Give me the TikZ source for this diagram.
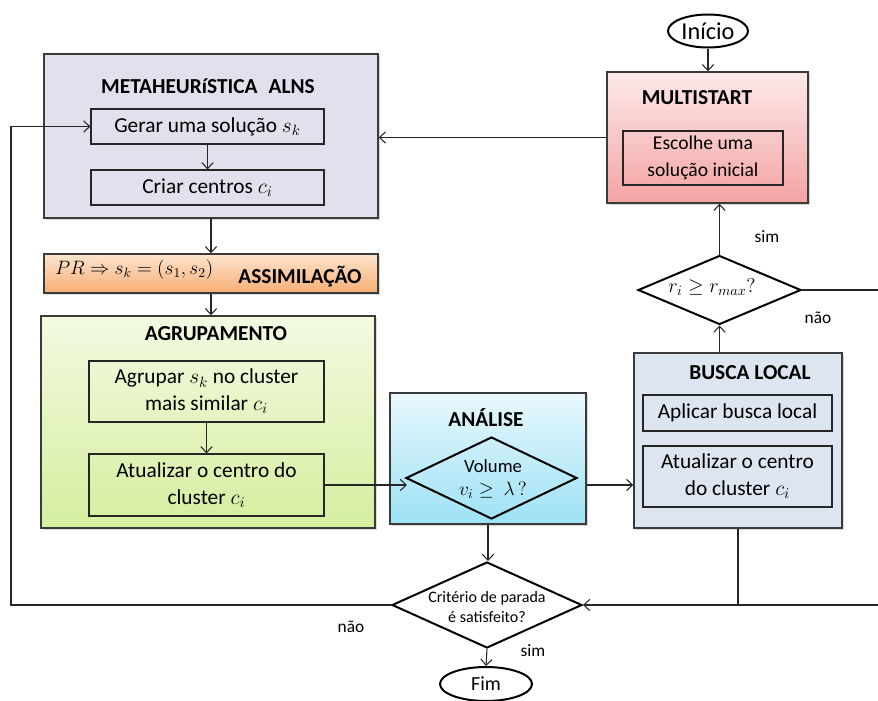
\RequirePackage{fix-cm}
\documentclass[tikz,border=0pt]{standalone}
\usepackage{fontspec}
\setmainfont{Carlito}
\usetikzlibrary{fit,shapes.geometric,shadows,arrows.meta}
\definecolor{edgegray}{HTML}{3A3A3A}
\definecolor{lavender}{HTML}{E4DFEC}
\definecolor{pinktop}{HTML}{FDE9E9}
\definecolor{pinkbot}{HTML}{F4A3A3}
\definecolor{orangetop}{HTML}{FDE4CF}
\definecolor{orangebot}{HTML}{F7AE74}
\definecolor{greentop}{HTML}{F3FAE2}
\definecolor{greenbot}{HTML}{D5EE9E}
\definecolor{cyantop}{HTML}{E9F8FD}
\definecolor{cyanbot}{HTML}{9DE2F6}
\definecolor{bluegray}{HTML}{DCE5F0}
\tikzset{
  outerbox/.style={draw=edgegray, line width=1.1pt, inner sep=0pt,
    drop shadow={shadow xshift=1.3pt, shadow yshift=-1.3pt, opacity=0.3}},
  innerbox/.style={draw=black!85, line width=0.9pt, inner sep=0pt},
  bodytext/.style={align=center, font=\fontsize{16}{20}\selectfont, inner sep=0pt},
  titletext/.style={font=\bfseries\fontsize{16}{19}\selectfont, inner sep=0pt},
  lbl/.style={font=\fontsize{13}{15}\selectfont, inner sep=0pt},
  dia/.style={diamond, draw=black, line width=1.5pt, inner sep=0pt},
  term/.style={ellipse, draw=black, line width=1.5pt, inner sep=0pt},
  arr/.style={-{Straight Barb[length=4.5pt,width=8.5pt]}, line width=0.8pt, black!85},
  ln/.style={line width=0.8pt, black!85},
}
\begin{document}
\begin{tikzpicture}[x=0.75pt, y=-0.75pt]
\useasboundingbox (0,0) rectangle (878,700);

% Inicio
\node[term, minimum width=80*0.75pt, minimum height=33*0.75pt,
  font=\fontsize{18.2}{20}\selectfont] (inicio) at (708,31) {Início};

% MULTISTART
\node[outerbox, top color=pinktop, bottom color=pinkbot, fit={(607,72) (808,203)}] (ms) {};
\node[titletext] (mstitle) at (697,98) {MULTISTART};
\node[innerbox, fit={(623,131) (783,185)}] (msin) {};
\node[align=center, font=\fontsize{14.7}{20}\selectfont, inner sep=0pt] (mstext) at (msin) {Escolhe uma\\solução inicial};

% METAHEURISTICA
\node[outerbox, fill=lavender, fit={(44,54) (378,218)}] (meta) {};
\node[titletext] (metatitle) at (208,86) {METAHEURíSTICA\hspace{0.3em} ALNS};
\node[innerbox, fit={(91,109) (324,144)}] (gerar) {};
\node[bodytext] (gerartext) at (gerar) {Gerar uma solução $s_k$};
\node[innerbox, fit={(91,170) (324,205)}] (criar) {};
\node[bodytext] (criartext) at (criar) {Criar centros $c_i$};

% ASSIMILACAO
\node[outerbox, top color=orangetop, bottom color=orangebot, fit={(44,254) (378,293)}] (assim) {};
\node[font=\fontsize{14.5}{18}\selectfont, inner sep=0pt, anchor=west] (prtext) at (55,270) {$PR \Rightarrow s_k = (s_1, s_2)$};
\node[titletext] (assimtitle) at (300,277) {ASSIMILAÇÃO};

% AGRUPAMENTO
\node[outerbox, top color=greentop, bottom color=greenbot, fit={(41,316) (375,528)}] (agrup) {};
\node[titletext] (agruptitle) at (216,334) {AGRUPAMENTO};
\node[innerbox, fit={(89,361) (324,422)}] (agrupar) {};
\node[bodytext] (agrupartext) at (agrupar) {Agrupar $s_k$ no cluster\\mais similar $c_i$};
\node[innerbox, fit={(89,454) (324,516)}] (atual) {};
\node[bodytext] (atualtext) at (atual) {Atualizar o centro do\\cluster $c_i$};

% ANALISE
\node[outerbox, top color=cyantop, bottom color=cyanbot, fit={(390,393) (586,524)}] (analise) {};
\node[titletext] (analisetitle) at (486,418) {ANÁLISE};
\node[dia, minimum width=171*0.75pt, minimum height=82*0.75pt] (vol) at (491.5,478) {};
\node[font=\fontsize{14}{16}\selectfont, inner sep=0pt] (voltext1) at (493,466) {Volume};
\node[font=\fontsize{14.5}{16}\selectfont, inner sep=0pt] (voltext2) at (493,490) {$v_i \geq\ \lambda\,?$};

% BUSCA LOCAL
\node[outerbox, fill=bluegray, fit={(634,353) (842,528)}] (busca) {};
\node[titletext] (buscatitle) at (750,373) {BUSCA LOCAL};
\node[innerbox, fit={(643,395) (832,431)}] (aplicar) {};
\node[bodytext] (aplicartext) at (aplicar) {Aplicar busca local};
\node[innerbox, fit={(643,446) (832,507)}] (atual2) {};
\node[bodytext] (atual2text) at (atual2) {Atualizar o centro\\do cluster $c_i$};

% r diamond
\node[dia, minimum width=163*0.75pt, minimum height=69*0.75pt] (rdia) at (719.5,290) {};
\node[font=\fontsize{15}{18}\selectfont, inner sep=0pt] (rtext) at (712,287) {$r_i \geq r_{max}?$};

% Criterio diamond
\node[dia, minimum width=190*0.75pt, minimum height=86*0.75pt] (crit) at (487,605) {};
\node[align=center, font=\fontsize{12}{15}\selectfont, inner sep=0pt] (crittext) at (487,607) {Critério de parada\\é satisfeito?};

% Fim
\node[term, minimum width=92*0.75pt, minimum height=34*0.75pt,
  font=\fontsize{15}{18}\selectfont] (fim) at (486,684) {Fim};

% coordinates
\coordinate (redge1) at (878,290);
\coordinate (redge2) at (878,605);
\coordinate (lx) at (11,0);

% connectors
\draw[arr] (inicio.south) -- (inicio.south |- ms.north);
\draw[arr] (ms.west) -- (ms.west -| meta.east);
\draw[arr] (gerar.south) -- (criar.north);
\draw[arr] (meta.south) -- (meta.south |- assim.north);
\draw[arr] (assim.south) -- (assim.south |- agrup.north);
\draw[arr] (agrupar.south) -- (atual.north);
\draw[arr] (atual.east) -- ([xshift=1.5pt]atual.east -| vol.west);
\draw[arr] (analise.east |- atual.east) -- (busca.west |- atual.east);
\draw[arr] (rdia.south |- busca.north) -- (rdia.south);
\draw[arr] (rdia.north) -- (rdia.north |- ms.south);
\draw[ln] (rdia.east) -- (redge1);
\draw[arr] (redge2) -- (crit.east);
\draw[ln] (busca.south) -- (busca.south |- crit.east);
\draw[arr] (analise.south) -- (analise.south |- crit.north);
\draw[arr] (crit.south) -- (fim.north);
\draw[arr] (crit.west) -- (crit.west -| lx) |- (gerar.west);

% labels
\node[lbl] (simr) at (767,237) {sim};
\node[lbl] (naor) at (818,318) {não};
\node[lbl] (simb) at (533,651) {sim};
\node[lbl] (naol) at (351,627) {não};
\end{tikzpicture}
\end{document}
